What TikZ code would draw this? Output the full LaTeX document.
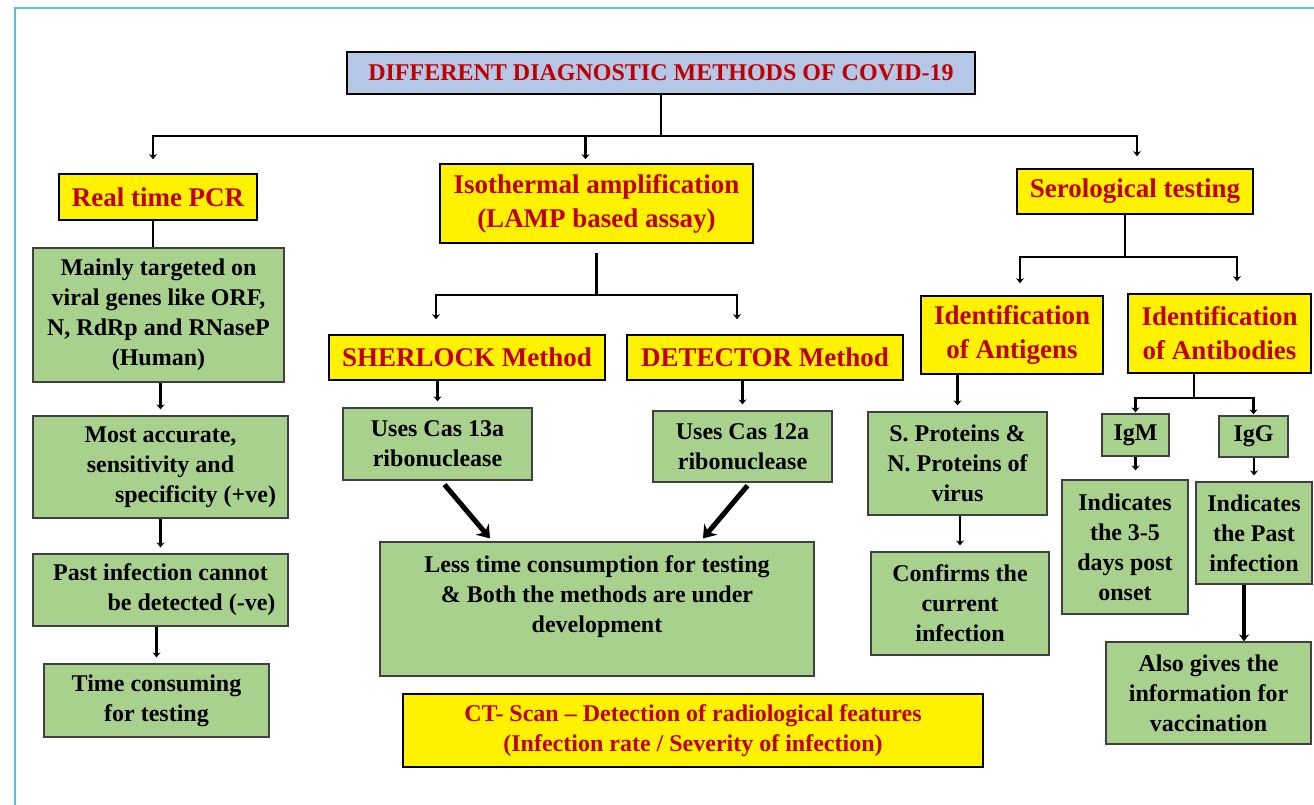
\documentclass[tikz,border=0pt]{standalone}
\usepackage{fontspec}
\setmainfont{Liberation Serif}
\usetikzlibrary{arrows.meta}
\definecolor{framecyan}{RGB}{91,192,222}
\definecolor{titleblue}{RGB}{180,199,231}
\definecolor{boxgreen}{RGB}{169,209,142}
\definecolor{headred}{RGB}{192,0,0}

\begin{document}
\begin{tikzpicture} [x=1pt,y=-1pt,
	every node/.style={rectangle,inner sep=0pt,align=center},
	boxdim/.style 2 args={minimum width=#1pt,minimum height=#2pt},
	head/.style={draw=black,line width=1.6pt,fill=yellow,text=headred,font=\bfseries\fontsize{27}{34}\selectfont},
	note/.style={draw=black!75,line width=1.2pt,fill=boxgreen,font=\bfseries\fontsize{24}{30}\selectfont},
	link/.style={line width=2.6pt,-{Stealth[length=5pt,width=8pt]}},
	biglink/.style={line width=4.5pt,-{Stealth[length=7pt,width=10pt]}},
	bigarrow/.style={line width=5pt,-{Stealth[length=12pt,width=17pt]}}]
	\useasboundingbox (0,0) rectangle (1314,805);
	\draw [framecyan,line width=2.5pt] (15,805) -- (15,8) -- (1314,8);

	\node [draw=black,line width=2.2pt,fill=titleblue,text=headred,font=\bfseries\fontsize{24}{28}\selectfont,boxdim={628}{42}] (title) at (661,73) {DIFFERENT DIAGNOSTIC METHODS OF COVID-19};

	\node [head,boxdim={198}{46}] (pcr) at (158,197) {Real time PCR};
	\node [head,boxdim={313}{79}] (iso) at (596.5,203.5) {Isothermal amplification\\(LAMP based assay)};
	\node [head,boxdim={236}{45}] (sero) at (1135,191.5) {Serological testing};

	\node [note,boxdim={251}{134}] (genes) at (158.5,315) {Mainly targeted on\\viral genes like ORF,\\N, RdRp and RNaseP\\(Human)};
	\node [note,boxdim={255}{102}] (accurate) at (160.5,467) {Most accurate,\\sensitivity and\\\hspace*{70pt}specificity (+ve)};
	\node [note,boxdim={255}{72}] (past) at (160.5,590) {Past infection cannot\\\hspace*{62pt}be detected (-ve)};
	\node [note,boxdim={225}{73}] (time) at (156.5,700.5) {Time consuming\\for testing};

	\node [head,boxdim={276}{45}] (sherlock) at (467,357.5) {SHERLOCK Method};
	\node [head,boxdim={276}{45}] (detector) at (765,357.5) {DETECTOR Method};
	\node [note,boxdim={189}{72}] (cas13) at (437.5,444) {Uses Cas 13a\\ribonuclease};
	\node [note,boxdim={179}{71}] (cas12) at (742.5,446.5) {Uses Cas 12a\\ribonuclease};
	\node [note,boxdim={434}{134}] (less) at (597,609) {Less time consumption for testing\\\& Both the methods are under\\development\\\mbox{}};
	\node [head,font=\bfseries\fontsize{24}{30}\selectfont,boxdim={580}{73}] (ct) at (693,730.5) {CT- Scan – Detection of radiological features\\(Infection rate / Severity of infection)};

	\node [head,boxdim={182}{78}] (antigens) at (1012,335) {Identification\\of Antigens};
	\node [head,boxdim={183}{79}] (antibodies) at (1219.5,333.5) {Identification\\of Antibodies};
	\node [note,boxdim={179}{103}] (sprot) at (957.5,463.5) {S. Proteins \&\\N. Proteins of\\virus};
	\node [note,boxdim={178}{103}] (confirms) at (960,603.5) {Confirms the\\current\\infection};
	\node [note,boxdim={67}{42}] (igm) at (1135.5,435) {IgM};
	\node [note,boxdim={69}{41}] (igg) at (1253.5,436.5) {IgG};
	\node [note,boxdim={126}{134}] (ind35) at (1125,547) {Indicates\\the 3-5\\days post\\onset};
	\node [note,boxdim={116}{102}] (indpast) at (1254,533) {Indicates\\the Past\\infection};
	\node [note,boxdim={205}{102}] (also) at (1208.5,693) {Also gives the\\information for\\vaccination};

	\foreach \to/\dx/\gap in {pcr/-5/14,iso/-11/4,sero/2/12}
		\draw [link,shorten >=\gap pt] (title.south) -- ++(0,41) -| ([xshift=\dx pt]\to.north);
	\foreach \to/\dx in {sherlock/-31,detector/-28}
		\draw [link,shorten >=15pt] ([yshift=-9pt]iso.south) -- ++(0,42) -| ([xshift=\dx pt]\to.north);
	\foreach \to/\dx in {antigens/8,antibodies/17.5}
		\draw [link,shorten >=12pt] ([xshift=-10pt]sero.south) -- ++(0,42) -| ([xshift=\dx pt]\to.north);
	\foreach \to in {igm,igg}
		\draw [link,shorten >=1pt] ([xshift=-25.5pt]antibodies.south) -- ++(0,24) -| (\to.north);

	\draw [line width=2.6pt] ([xshift=-5pt]pcr.south) -- ([xshift=-5pt]pcr.south |- genes.north);
	\foreach \from/\to in {genes/accurate,accurate/past,past/time,sherlock/cas13,detector/cas12,antigens/sprot,sprot/confirms,igg/indpast}
		\draw [link,shorten >=6pt] (\to.north |- \from.south) -- (\to.north);
	\draw [link,shorten >=9pt] (igm.south) -- (igm.south |- ind35.north);
	\draw [biglink] ([xshift=-10pt]indpast.south) -- ([xshift=-10pt]indpast.south |- also.north);

	\draw [bigarrow] ([xshift=7pt,yshift=-4pt]cas13.south) -- ([xshift=-107pt,yshift=3pt]less.north);
	\draw [bigarrow] ([xshift=5pt,yshift=-3pt]cas12.south) -- ([xshift=106pt,yshift=3pt]less.north);
\end{tikzpicture}
\end{document}
